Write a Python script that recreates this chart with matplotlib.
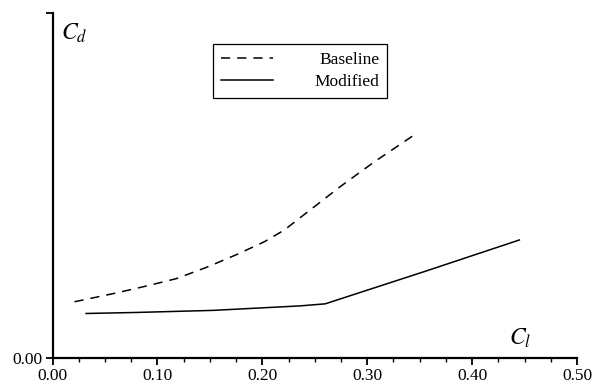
import matplotlib
matplotlib.use("Agg")
import matplotlib.pyplot as plt
from matplotlib.ticker import MultipleLocator, FormatStrFormatter

plt.rcParams['font.family'] = ['Liberation Serif', 'DejaVu Serif']
plt.rcParams['mathtext.fontset'] = 'stix'

# baseline (dashed) curve
base_cl = [0.021, 0.060, 0.090, 0.118, 0.147, 0.175, 0.202, 0.221, 0.274, 0.307, 0.347]
base_cd = [0.163, 0.188, 0.209, 0.230, 0.263, 0.299, 0.337, 0.371, 0.496, 0.569, 0.651]

# modified (solid) curve
mod_cl = [0.032, 0.080, 0.153, 0.236, 0.260, 0.355, 0.445]
mod_cd = [0.129, 0.132, 0.138, 0.151, 0.157, 0.251, 0.342]

xticks = [0.0, 0.1, 0.2, 0.3, 0.4, 0.5]

fig = plt.figure(figsize=(5.92, 3.89), dpi=100)
ax = fig.add_axes([0.0887, 0.0797, 0.886, 0.887])

ax.plot(base_cl, base_cd, color='black', lw=1.1, ls=(0, (6, 4.6)), label='Baseline')
ax.plot(mod_cl, mod_cd, color='black', lw=1.1, label='Modified')

ax.set_xlim(0, 0.5)
ax.set_ylim(0, 1)
ax.spines['top'].set_visible(False)
ax.spines['right'].set_visible(False)
ax.spines['left'].set_linewidth(1.6)
ax.spines['bottom'].set_linewidth(1.6)

ax.set_xticks(xticks)
ax.xaxis.set_major_formatter(FormatStrFormatter('%.2f'))
ax.xaxis.set_minor_locator(MultipleLocator(0.025))
ax.set_yticks([0.0, 1.0])
ax.set_yticklabels(['0.00', ''])
ax.tick_params(which='major', direction='out', length=5, width=1.3, labelsize=12.5, pad=2)
ax.tick_params(which='minor', direction='out', length=3, width=1.0)

ax.text(0.016, 0.975, '$C_d$', transform=ax.transAxes, fontsize=17, va='top', ha='left')
ax.text(0.870, 0.038, '$C_l$', transform=ax.transAxes, fontsize=17, va='baseline', ha='left')

leg = ax.legend(loc='upper left', bbox_to_anchor=(0.306, 0.910), borderaxespad=0,
                fancybox=False, edgecolor='black', framealpha=1, fontsize=12.5,
                handlelength=3.0, handletextpad=2.4, borderpad=0.45, labelspacing=0.35)
leg.get_frame().set_linewidth(0.9)

# right-align the legend labels
fig.canvas.draw()
renderer = fig.canvas.get_renderer()
widths = [t.get_window_extent(renderer).width for t in leg.get_texts()]
for t, w in zip(leg.get_texts(), widths):
    t.set_position((max(widths) - w, 0))

fig.savefig('out.png', dpi=100)
